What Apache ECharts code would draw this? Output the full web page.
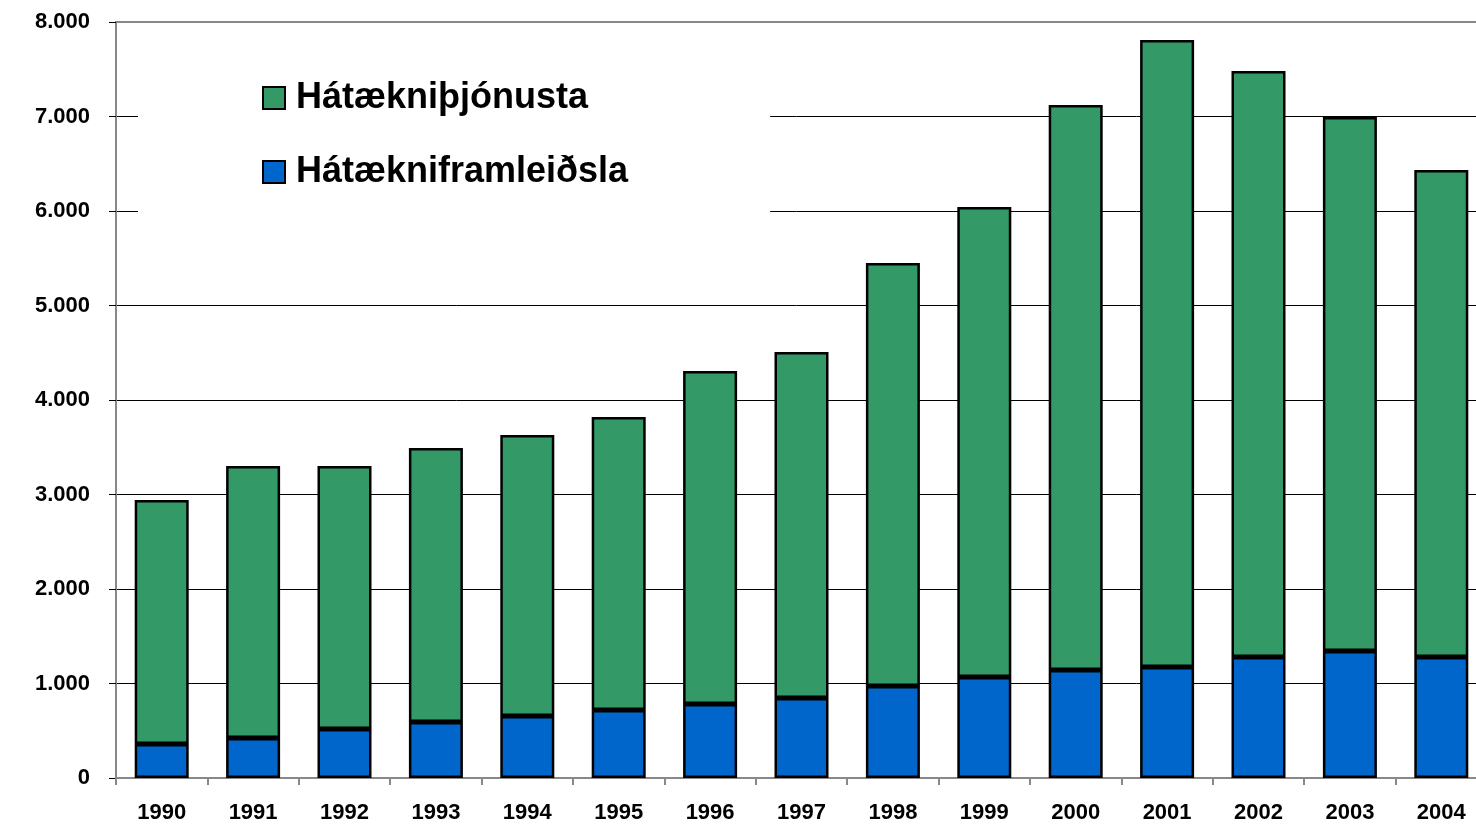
<!DOCTYPE html>
<html>
<head>
<meta charset="utf-8">
<script src="https://cdn.jsdelivr.net/npm/echarts@6/dist/echarts.min.js"></script>
<style>
  html, body { margin: 0; padding: 0; background: #fff; }
  #chart { width: 1476px; height: 824px; }
</style>
</head>
<body>
<div id="chart"></div>
<script>
const years = ['1990', '1991', '1992', '1993', '1994', '1995', '1996', '1997', '1998', '1999', '2000', '2001', '2002', '2003', '2004'];
const framleidsla = [360, 423, 519, 593, 656, 720, 783, 847, 974, 1069, 1143, 1175, 1280, 1344, 1280];
const thjonusta = [2582, 2879, 2783, 2899, 2974, 3100, 3524, 3661, 4476, 4973, 5979, 6635, 6201, 5651, 5154];
const yTicks = [0, 1000, 2000, 3000, 4000, 5000, 6000, 7000, 8000];

const chart = echarts.init(document.getElementById('chart'));

const fmt = v => v === 0 ? '0' : String(v).replace(/(\d)(\d{3})$/, '$1.$2');

const option = {
  animation: false,
  backgroundColor: '#fff',
  textStyle: { fontFamily: 'Liberation Sans, Arial, sans-serif' },
  // plot area runs a little past the right edge of the picture
  grid: {
    left: 116, top: 22, width: 1371, height: 756,
    outerBoundsMode: 'none', containLabel: false,
    show: true, borderColor: '#888', borderWidth: 2
  },
  legend: {
    data: ['Hátækniþjónusta', 'Hátækniframleiðsla'],
    orient: 'vertical',
    icon: 'rect',
    left: 138,
    top: 24,
    padding: [56, 142, 40, 124],
    backgroundColor: '#fff',
    itemWidth: 22,
    itemHeight: 22,
    itemGap: 38,
    itemStyle: { borderColor: '#000', borderWidth: 2 },
    textStyle: { fontSize: 36, fontWeight: 'bold', color: '#000', padding: [0, 0, 0, 6] }
  },
  xAxis: {
    type: 'category',
    data: years,
    axisLine: { lineStyle: { color: '#888', width: 2 } },
    axisTick: { show: true, length: 7, lineStyle: { color: '#888', width: 2 } },
    axisLabel: { fontSize: 22, fontWeight: 'bold', color: '#000', margin: 24 }
  },
  yAxis: {
    type: 'value',
    min: yTicks[0],
    max: yTicks[yTicks.length - 1],
    interval: 1000,
    axisLine: { show: true, lineStyle: { color: '#888', width: 2 } },
    axisTick: { show: true, length: 7, lineStyle: { color: '#000' } },
    axisLabel: { fontSize: 22, fontWeight: 'bold', color: '#000', margin: 26, formatter: fmt },
    splitLine: { lineStyle: { color: ['#888', '#000', '#000', '#000', '#000', '#000', '#000', '#000', '#888'], width: 1 } }
  },
  series: [
    {
      name: 'Hátækniframleiðsla',
      type: 'bar',
      stack: 'total',
      data: framleidsla,
      barWidth: 54,
      itemStyle: { color: '#0066cc', borderColor: '#000', borderWidth: 2.5 }
    },
    {
      name: 'Hátækniþjónusta',
      type: 'bar',
      stack: 'total',
      data: thjonusta,
      barWidth: 54,
      itemStyle: { color: '#339966', borderColor: '#000', borderWidth: 2.5 }
    }
  ]
};

chart.setOption(option);
</script>
</body>
</html>
